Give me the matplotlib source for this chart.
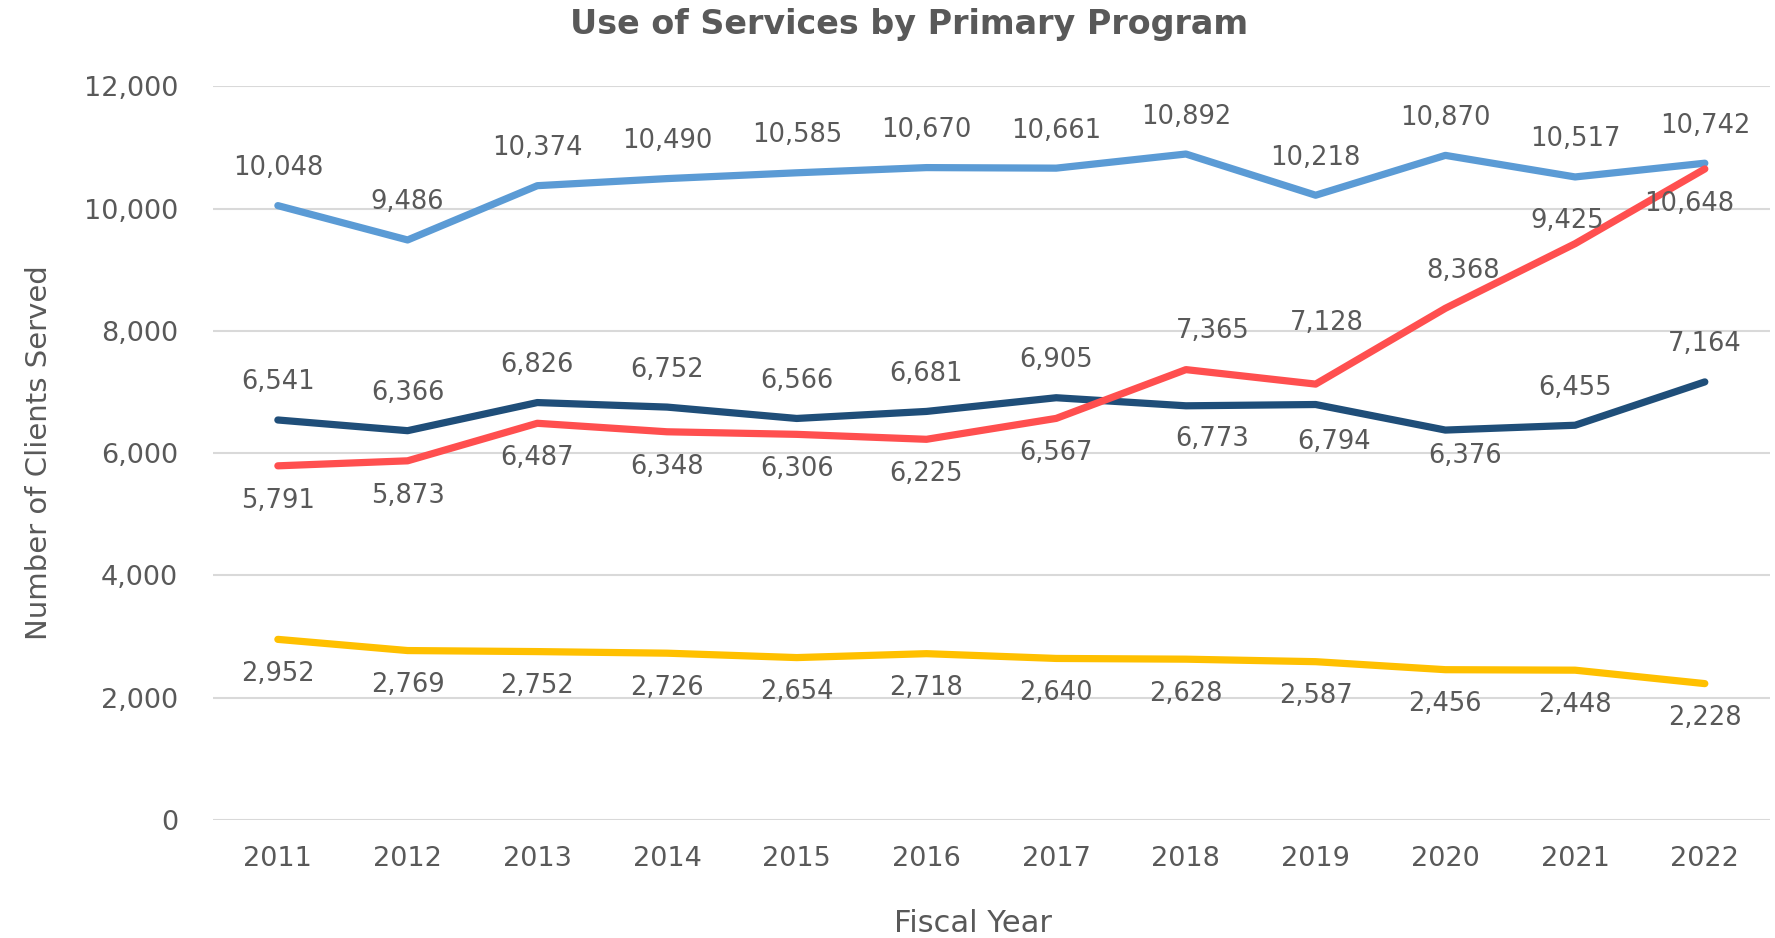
import matplotlib.pyplot as plt
from matplotlib.ticker import FuncFormatter

years = ["2011", "2012", "2013", "2014", "2015", "2016",
         "2017", "2018", "2019", "2020", "2021", "2022"]
light_blue = [10048, 9486, 10374, 10490, 10585, 10670,
              10661, 10892, 10218, 10870, 10517, 10742]
navy = [6541, 6366, 6826, 6752, 6566, 6681,
        6905, 6773, 6794, 6376, 6455, 7164]
red = [5791, 5873, 6487, 6348, 6306, 6225,
       6567, 7365, 7128, 8368, 9425, 10648]
yellow = [2952, 2769, 2752, 2726, 2654, 2718,
          2640, 2628, 2587, 2456, 2448, 2228]

TEXT = "#595959"
plt.rcParams["font.family"] = ["DejaVu Sans"]

fig = plt.figure(figsize=(17.75, 9.38), dpi=100)
ax = fig.add_axes([0.120, 0.126, 0.877, 0.782])

# label placement: default side per series, plus a few hand-nudged points (offset points)
series = [
    (light_blue, "#5B9BD5", "above", {}),
    (navy, "#1F4E79", "above", {7: (19, -24), 8: (13, -27), 9: (14, -19)}),
    (red, "#FF4F4F", "below", {7: (19, 28), 8: (8, 44), 9: (13, 27),
                               10: (-6, 16), 11: (-11, -25)}),
    (yellow, "#FFC000", "below", {}),
]

x = list(range(len(years)))
for vals, color, side, special in series:
    ax.plot(x, vals, color=color, linewidth=5.2, solid_capstyle="round",
            solid_joinstyle="round", zorder=3)
    for i, v in enumerate(vals):
        dx, dy = special.get(i, (0, 27 if side == "above" else -25))
        ax.annotate(f"{v:,}", (i, v), xytext=(dx, dy), textcoords="offset points",
                    ha="center", va="center", fontsize=18.5, color=TEXT, zorder=4)

ax.set_xlim(-0.5, len(years) - 0.5)
ax.set_ylim(0, 12000)
ax.set_yticks(range(0, 12001, 2000))
ax.yaxis.set_major_formatter(FuncFormatter(lambda v, p: f"{int(v):,}"))
ax.set_xticks(x)
ax.set_xticklabels(years)
ax.grid(axis="y", color="#D9D9D9", linewidth=1.5, zorder=0)
ax.tick_params(axis="both", length=0, labelsize=19.5, labelcolor=TEXT)
ax.tick_params(axis="x", pad=19)
ax.tick_params(axis="y", pad=25)
for s in ax.spines.values():
    s.set_visible(False)

ax.set_ylabel("Number of Clients Served", fontsize=21, color=TEXT, labelpad=22)
ax.set_xlabel("Fiscal Year", fontsize=22, color=TEXT)
ax.xaxis.set_label_coords(0.488, -0.121)
fig.suptitle("Use of Services by Primary Program", x=0.512, y=0.992, va="top",
             fontsize=24, fontweight="bold", color=TEXT)

fig.savefig("out.png", dpi=100)
